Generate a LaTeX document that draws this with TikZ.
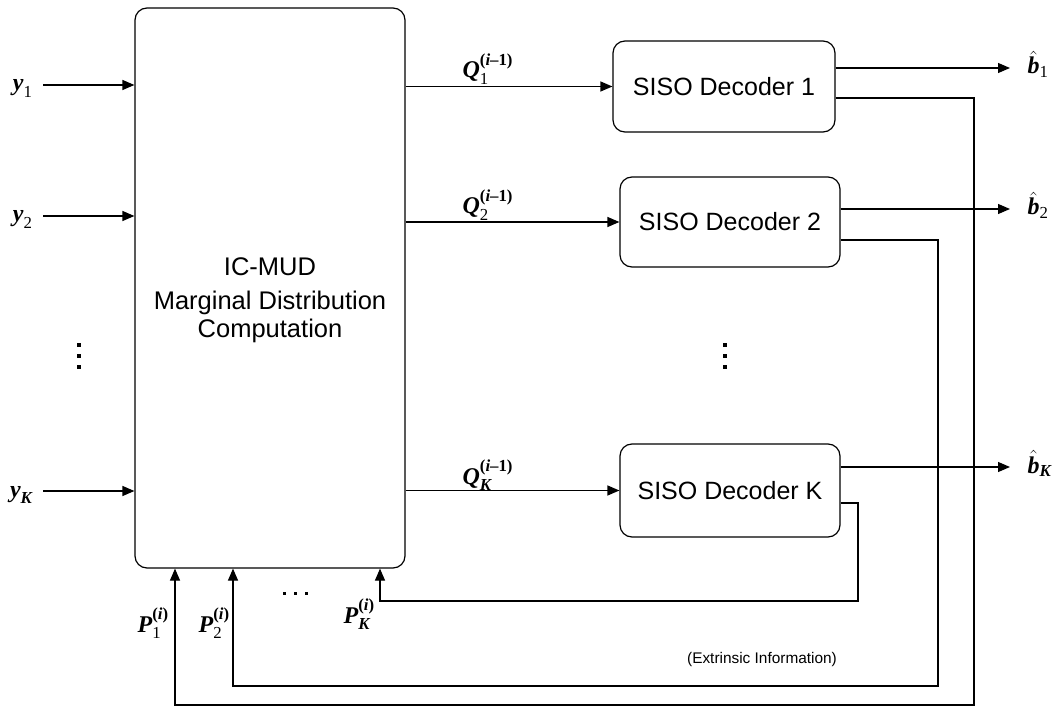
\documentclass[tikz,border=0pt]{standalone}
\usepackage{amsmath}
\usepackage{fontspec}
\setmainfont{Liberation Sans}
\newfontfamily\tms{Liberation Serif}
\newcommand\bv[1]{\text{\tms\bfseries\itshape #1}}
\newcommand\rv[1]{\text{\tms #1}}
\newcommand\bu[1]{\text{\tms\bfseries #1}}
\usetikzlibrary{arrows.meta}
\begin{document}
\begin{tikzpicture}[x=1pt,y=-1pt,
  line width=1.2pt,
  arr/.style={-{Triangle[length=12pt,width=10pt]}},
  blk/.style={draw,rounded corners=12pt,inner sep=0pt},
  dectext/.style={font=\fontsize{25}{30}\selectfont},
  mlabel/.style={font=\fontsize{24}{28}\selectfont,inner sep=0pt},
  dot/.style={fill=black,draw=none}]
\useasboundingbox (0,0) rectangle (1053,711);
% main block
\node[blk,minimum width=270pt,minimum height=560pt] (mud) at (270,288) {};
\node[align=center,font=\fontsize{25.5}{28}\selectfont] (mudtext) at (270,300) {IC-MUD\\[6pt]Marginal Distribution\\Computation};
% decoders
\node[blk,dectext,minimum width=222pt,minimum height=91pt] (d1) at (724,86.5) {SISO Decoder 1};
\node[blk,dectext,minimum width=220pt,minimum height=90pt] (d2) at (730,222) {SISO Decoder 2};
\node[blk,dectext,minimum width=220pt,minimum height=93pt] (dK) at (730,490.5) {SISO Decoder K};
% inputs
\node[mlabel,anchor=base east] (y1) at (33,91) {$\bv{y}_{\rv{1}}$};
\node[mlabel,anchor=base east] (y2) at (33,222) {$\bv{y}_{\rv{2}}$};
\node[mlabel,anchor=base east] (yK) at (33,497) {$\bv{y}_{\bv{K}}$};
\coordinate (c1) at (43,85);
\coordinate (c2) at (43,216);
\coordinate (cK) at (43,491);
\draw[arr] (c1) -- (c1 -| mud.west);
\draw[arr] (c2) -- (c2 -| mud.west);
\draw[arr] (cK) -- (cK -| mud.west);
% vertical dots
\foreach \yy in {345,356,367} {
  \fill[dot] (76.5,\yy-2) rectangle ++(4,4);
  \fill[dot] (723,\yy-2) rectangle ++(4,4);
}
% Q arrows
\draw[arr] (mud.east |- d1) -- (d1.west);
\draw[arr] (mud.east |- d2) -- (d2.west);
\draw[arr] (mud.east |- dK) -- (dK.west);
\node[mlabel,anchor=base west] (q1) at (462,78) {$\bv{Q}_{\rv{1}}^{\bu{(}\bv{i}\bu{–1)}}$};
\node[mlabel,anchor=base west] (q2) at (462,214) {$\bv{Q}_{\rv{2}}^{\bu{(}\bv{i}\bu{–1)}}$};
\node[mlabel,anchor=base west] (qK) at (462,484) {$\bv{Q}_{\bv{K}}^{\bu{(}\bv{i}\bu{–1)}}$};
% outputs
\coordinate (o1) at (1010,68);
\coordinate (o2) at (1010,209);
\coordinate (oK) at (1010,467);
\draw[arr] (d1.east |- o1) -- (o1);
\draw[arr] (d2.east |- o2) -- (o2);
\draw[arr] (dK.east |- oK) -- (oK);
\node[mlabel,anchor=base west] (b1) at (1027,74) {$\hat{\bv{b}}_{\rv{1}}$};
\node[mlabel,anchor=base west] (b2) at (1027,215) {$\hat{\bv{b}}_{\rv{2}}$};
\node[mlabel,anchor=base west] (bK) at (1027,473) {$\hat{\bv{b}}_{\bv{K}}$};
% feedback
\coordinate (f1a) at (974,98);
\coordinate (f1b) at (974,705);
\coordinate (f1c) at (175,705);
\draw[arr] (d1.east |- f1a) -- (f1a) -- (f1b) -- (f1c) -- (f1c |- mud.south);
\coordinate (f2a) at (938,240);
\coordinate (f2b) at (938,686);
\coordinate (f2c) at (233,686);
\draw[arr] (d2.east |- f2a) -- (f2a) -- (f2b) -- (f2c) -- (f2c |- mud.south);
\coordinate (fKa) at (858,503);
\coordinate (fKb) at (858,601);
\coordinate (fKc) at (380,601);
\draw[arr] (dK.east |- fKa) -- (fKa) -- (fKb) -- (fKc) -- (fKc |- mud.south);
% P labels
\node[mlabel,anchor=base west] (p1) at (137,632) {$\bv{P}_{\rv{1}}^{\bu{(}\bv{i}\bu{)}}$};
\node[mlabel,anchor=base west] (p2) at (198,632) {$\bv{P}_{\rv{2}}^{\bu{(}\bv{i}\bu{)}}$};
\node[mlabel,anchor=base west] (pK) at (343,623) {$\bv{P}_{\bv{K}}^{\bu{(}\bv{i}\bu{)}}$};
\foreach \xx in {284,295,306} {
  \fill[dot] (\xx-1.5,591.5) rectangle ++(3,3);
}
\node[font=\fontsize{15.4}{18}\selectfont] (ext) at (762,660) {(Extrinsic Information)};
\end{tikzpicture}
\end{document}
